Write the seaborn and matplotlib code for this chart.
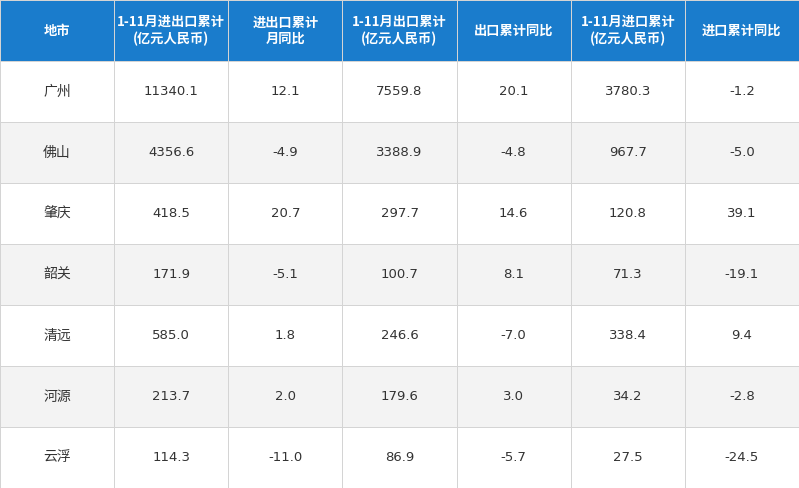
import matplotlib
matplotlib.use("Agg")
import matplotlib.pyplot as plt
import seaborn as sns
import numpy as np
from matplotlib.colors import ListedColormap

sns.set_theme(style="white")
plt.rcParams['font.family'] = ['Noto Sans CJK SC', 'DejaVu Sans']

headers = ["地市", "1-11月进出口累计\n(亿元人民币)", "进出口累计\n月同比", "1-11月出口累计\n(亿元人民币)",
           "出口累计同比", "1-11月进口累计\n(亿元人民币)", "进口累计同比"]
cities = ["广州", "佛山", "肇庆", "韶关", "清远", "河源", "云浮"]
total = ["11340.1", "4356.6", "418.5", "171.9", "585.0", "213.7", "114.3"]
total_yoy = ["12.1", "-4.9", "20.7", "-5.1", "1.8", "2.0", "-11.0"]
export = ["7559.8", "3388.9", "297.7", "100.7", "246.6", "179.6", "86.9"]
export_yoy = ["20.1", "-4.8", "14.6", "8.1", "-7.0", "3.0", "-5.7"]
imp = ["3780.3", "967.7", "120.8", "71.3", "338.4", "34.2", "27.5"]
imp_yoy = ["-1.2", "-5.0", "39.1", "-19.1", "9.4", "-2.8", "-24.5"]

cols = [cities, total, total_yoy, export, export_yoy, imp, imp_yoy]
nrows = len(cities)
bg = np.zeros((nrows + 1, 7))
bg[0, :] = 2
for i in range(nrows):
    bg[i + 1, :] = i % 2

fig = plt.figure(figsize=(7.99, 4.88), dpi=100)
ax = fig.add_axes([0, 0, 1, 1])
sns.heatmap(bg, ax=ax, cmap=ListedColormap(["#ffffff", "#f3f3f3", "#1a7ccc"]), vmin=-0.5, vmax=2.5,
            cbar=False, linewidths=0.7, linecolor="#d4d4d4", xticklabels=False, yticklabels=False)
for j, h in enumerate(headers):
    ax.text(j + 0.5, 0.5, h, ha="center", va="center", color="white", fontsize=9.5,
            fontweight="bold", linespacing=1.2)
for j, col in enumerate(cols):
    for i, v in enumerate(col):
        fam = ['Noto Sans CJK SC'] if j == 0 else ['DejaVu Sans']
        ax.text(j + 0.5, i + 1.5, v, ha="center", va="center", color="#333333",
                fontsize=10 if j == 0 else 9.5, family=fam)
fig.savefig("out.png", dpi=100)
